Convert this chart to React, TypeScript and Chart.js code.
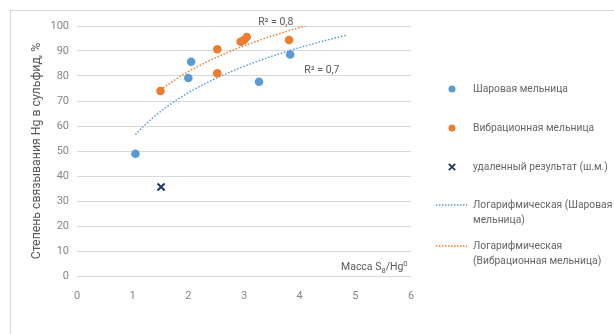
import { useEffect, useRef } from "react";
import { Chart, registerables } from "chart.js";

Chart.register(...registerables);

// Measured points: mass ratio S8/Hg0 vs. degree of Hg binding into sulfide, %
const ballMillX = [1.05, 2.0, 2.05, 3.27, 3.83];
const ballMillY = [48.9, 79.2, 85.7, 77.7, 88.6];
const vibMillX = [1.5, 2.52, 2.52, 2.94, 3.0, 3.05, 3.81];
const vibMillY = [74.0, 90.7, 81.1, 93.7, 94.4, 95.6, 94.4];
const removedX = [1.51];
const removedY = [35.6];

const xTicks = [0, 1, 2, 3, 4, 5, 6];
const yTicks = [0, 10, 20, 30, 40, 50, 60, 70, 80, 90, 100];

const ballLabel = "Шаровая мельница";
const vibLabel = "Вибрационная мельница";
const removedLabel = "удаленный результат (ш.м.)";
const ballTrendLabel = ["Логарифмическая (Шаровая", "мельница)"];
const vibTrendLabel = ["Логарифмическая", "(Вибрационная мельница)"];
const yTitle = "Степень связывания Hg в сульфид, %";

const FONT = "Roboto, 'Noto Sans', sans-serif";
const GRAY = "#595959";
const TICK_GRAY = "#858585";
const LEGEND_GRAY = "#666666";
const BLUE = "#5b9bd5";
const ORANGE = "#ed7d31";
const NAVY = "#203864";

// Least-squares fit y = a*ln(x) + b
function logFit(xs: number[], ys: number[]) {
  const lx = xs.map((v) => Math.log(v));
  const n = xs.length;
  const mx = lx.reduce((s, v) => s + v, 0) / n;
  const my = ys.reduce((s, v) => s + v, 0) / n;
  let sxx = 0, sxy = 0, syy = 0;
  for (let i = 0; i < n; i++) {
    sxx += (lx[i] - mx) ** 2;
    sxy += (lx[i] - mx) * (ys[i] - my);
    syy += (ys[i] - my) ** 2;
  }
  const a = sxy / sxx;
  const b = my - a * mx;
  return { a, b, r2: (a * sxy) / syy };
}

// Trend curve from the first point to one unit past the last (forward forecast)
function trendPoints(xs: number[], fit: { a: number; b: number }) {
  const x0 = Math.min(...xs);
  const x1 = Math.max(...xs) + 1;
  const steps = 80;
  const pts = [];
  for (let i = 0; i <= steps; i++) {
    const x = x0 + ((x1 - x0) * i) / steps;
    pts.push({ x, y: fit.a * Math.log(x) + fit.b });
  }
  return pts;
}

const zip = (xs: number[], ys: number[]) => xs.map((x, i) => ({ x, y: ys[i] }));
const r2Text = (r2: number) => "R² = " + r2.toFixed(1).replace(".", ",");

export default function App() {
  const ref = useRef<HTMLCanvasElement | null>(null);

  useEffect(() => {
    if (!ref.current) return;
    const ballFit = logFit(ballMillX, ballMillY);
    const vibFit = logFit(vibMillX, vibMillY);

    const overlay = {
      id: "overlay",
      afterDraw(chart: any) {
        const { ctx, scales } = chart;
        const xs = scales.x;
        const ys = scales.y;
        ctx.save();
        ctx.fillStyle = GRAY;
        ctx.textBaseline = "middle";

        // R² labels beside the trend curves
        ctx.font = `10.5px ${FONT}`;
        ctx.textAlign = "center";
        ctx.fillText(r2Text(vibFit.r2), xs.getPixelForValue(3.57), ys.getPixelForValue(101.6));
        ctx.fillText(r2Text(ballFit.r2), xs.getPixelForValue(4.4), ys.getPixelForValue(82.4));

        // X axis title with sub/superscripts: Масса S8/Hg0
        ctx.textAlign = "left";
        ctx.textBaseline = "alphabetic";
        let tx = 341;
        const ty = 270;
        const big = `10.5px ${FONT}`;
        const small = `7.5px ${FONT}`;
        const parts: [string, string, number][] = [
          ["Масса S", big, 0],
          ["8", small, 2.5],
          ["/Hg", big, 0],
          ["0", small, -4.5],
        ];
        for (const [t, f, dy] of parts) {
          ctx.font = f;
          ctx.fillText(t, tx, ty + dy);
          tx += ctx.measureText(t).width;
        }

        // Side legend
        const lx = 452;
        const textX = 473;
        ctx.font = `10.3px ${FONT}`;
        ctx.textBaseline = "middle";
        ctx.fillStyle = BLUE;
        ctx.beginPath();
        ctx.arc(lx, 89, 3.5, 0, Math.PI * 2);
        ctx.fill();
        ctx.fillStyle = ORANGE;
        ctx.beginPath();
        ctx.arc(lx, 128, 3.5, 0, Math.PI * 2);
        ctx.fill();
        ctx.strokeStyle = NAVY;
        ctx.lineWidth = 1.8;
        ctx.beginPath();
        ctx.moveTo(lx - 3.2, 167 - 3.2);
        ctx.lineTo(lx + 3.2, 167 + 3.2);
        ctx.moveTo(lx + 3.2, 167 - 3.2);
        ctx.lineTo(lx - 3.2, 167 + 3.2);
        ctx.stroke();

        ctx.lineWidth = 1.3;
        ctx.setLineDash([1.5, 1.5]);
        ctx.strokeStyle = BLUE;
        ctx.beginPath();
        ctx.moveTo(436, 205);
        ctx.lineTo(467, 205);
        ctx.stroke();
        ctx.strokeStyle = ORANGE;
        ctx.beginPath();
        ctx.moveTo(436, 246);
        ctx.lineTo(467, 246);
        ctx.stroke();
        ctx.setLineDash([]);

        ctx.fillStyle = LEGEND_GRAY;
        ctx.fillText(ballLabel, textX, 89);
        ctx.fillText(vibLabel, textX, 128);
        ctx.fillText(removedLabel, textX, 167);
        ballTrendLabel.forEach((t, i) => ctx.fillText(t, textX, 205 + i * 15.5));
        vibTrendLabel.forEach((t, i) => ctx.fillText(t, textX, 246 + i * 15.5));
        ctx.restore();
      },
    };

    const chart = new Chart(ref.current, {
      type: "scatter",
      data: {
        datasets: [
          {
            label: ballLabel,
            data: zip(ballMillX, ballMillY),
            pointRadius: 4.3,
            pointBackgroundColor: BLUE,
            pointBorderWidth: 0,
            borderColor: BLUE,
          },
          {
            label: vibLabel,
            data: zip(vibMillX, vibMillY),
            pointRadius: 4.3,
            pointBackgroundColor: ORANGE,
            pointBorderWidth: 0,
            borderColor: ORANGE,
          },
          {
            label: removedLabel,
            data: zip(removedX, removedY),
            pointStyle: "crossRot",
            pointRadius: 5,
            pointBorderColor: NAVY,
            pointBorderWidth: 2,
          },
          {
            label: ballTrendLabel.join(" "),
            data: trendPoints(ballMillX, ballFit),
            showLine: true,
            pointRadius: 0,
            borderColor: BLUE,
            borderWidth: 1.5,
            borderDash: [1.5, 1.8],
            clip: 0,
          },
          {
            label: vibTrendLabel.join(" "),
            data: trendPoints(vibMillX, vibFit),
            showLine: true,
            pointRadius: 0,
            borderColor: ORANGE,
            borderWidth: 1.5,
            borderDash: [1.5, 1.8],
            clip: 0,
          },
        ],
      } as any,
      options: {
        animation: false,
        responsive: false,
        maintainAspectRatio: false,
        layout: { padding: { left: 0, top: 26, right: 203, bottom: 28 } },
        plugins: {
          legend: { display: false },
          tooltip: { enabled: false },
        },
        scales: {
          x: {
            type: "linear",
            min: xTicks[0],
            max: xTicks[xTicks.length - 1],
            afterBuildTicks: (s: any) => {
              s.ticks = xTicks.map((v) => ({ value: v }));
            },
            afterFit: (s: any) => {
              s.height = 30;
            },
            grid: { display: false },
            border: { display: false },
            ticks: {
              color: TICK_GRAY,
              font: { family: FONT, size: 11 },
              padding: 6,
              maxRotation: 0,
            },
          },
          y: {
            type: "linear",
            min: yTicks[0],
            max: yTicks[yTicks.length - 1],
            afterBuildTicks: (s: any) => {
              s.ticks = yTicks.map((v) => ({ value: v }));
            },
            afterFit: (s: any) => {
              s.width = 77;
            },
            grid: { color: "#d9d9d9", lineWidth: 1, drawTicks: false },
            border: { display: false },
            ticks: {
              color: TICK_GRAY,
              font: { family: FONT, size: 11 },
              padding: 8,
            },
            title: {
              display: true,
              text: yTitle,
              color: GRAY,
              font: { family: FONT, size: 12.3 },
              padding: { top: 29.5, bottom: 0 },
            },
          },
        },
      } as any,
      plugins: [overlay],
    });
    return () => chart.destroy();
  }, []);

  return (
    <div
      style={{
        position: "fixed",
        left: 0,
        top: 0,
        width: 614,
        height: 334,
        background: "#ffffff",
        overflow: "hidden",
      }}
    >
      <div
        style={{
          position: "absolute",
          left: 10,
          top: 10,
          width: 640,
          height: 360,
          border: "1px solid #d9d9d9",
        }}
      />
      <canvas
        ref={ref}
        width={614}
        height={334}
        style={{ position: "absolute", left: 0, top: 0, width: 614, height: 334 }}
      />
    </div>
  );
}
